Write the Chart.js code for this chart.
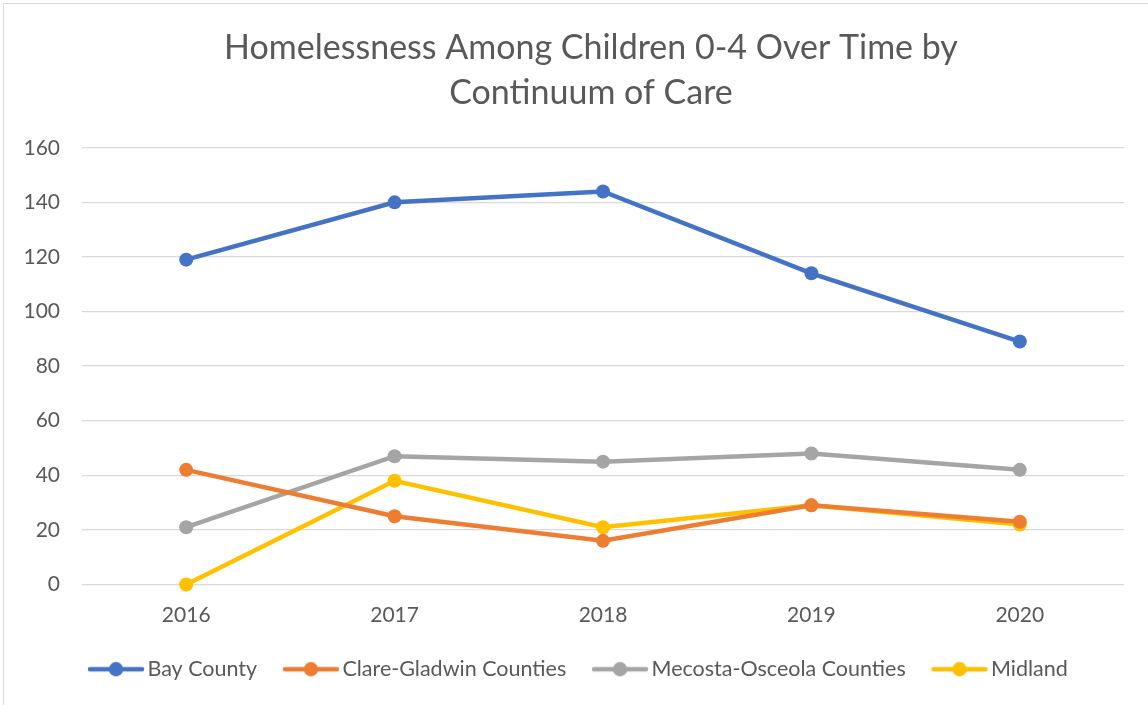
<!DOCTYPE html>
<html lang="en">
<head>
<meta charset="UTF-8">
<title>Homelessness Among Children 0-4</title>
<style>
  body { margin: 0; background: #fff; overflow: hidden; }
  .frame {
    position: absolute; left: 3px; top: 3px;
    width: 1150px; height: 710px;
    border: 1px solid #d9d9d9;
  }
  #chart-wrap { position: absolute; left: 0; top: 0; width: 1148px; height: 705px; }
</style>
</head>
<body>
<div class="frame"></div>
<div id="chart-wrap"><canvas id="chart"></canvas></div>

<script src="https://cdn.jsdelivr.net/npm/chart.js"></script>
<script>
// data
const years = ["2016", "2017", "2018", "2019", "2020"];
const bayCounty = [119, 140, 144, 114, 89];
const clareGladwin = [42, 25, 16, 29, 23];
const mecostaOsceola = [21, 47, 45, 48, 42];
const midland = [0, 38, 21, 29, 22];
const yTicks = [0, 20, 40, 60, 80, 100, 120, 140, 160];

const FONT = "Lato, 'Open Sans', sans-serif";
const textGray = "#595959";

// line + dot marker for the legend, like the Excel one
function legendMark(color) {
  const c = document.createElement("canvas");
  c.width = 58; c.height = 16;
  const g = c.getContext("2d");
  g.strokeStyle = color;
  g.lineWidth = 4.5;
  g.lineCap = "round";
  g.beginPath(); g.moveTo(3, 8); g.lineTo(55, 8); g.stroke();
  g.fillStyle = color;
  g.beginPath(); g.arc(29, 8, 7.2, 0, Math.PI * 2); g.fill();
  return c;
}

function series(label, data, color) {
  return {
    label: label,
    data: data,
    borderColor: color,
    backgroundColor: color,
    borderWidth: 4.5,
    pointRadius: 7,
    pointHoverRadius: 7,
    pointBackgroundColor: color,
    pointBorderWidth: 0,
    pointStyle: "circle",
    tension: 0,
    clip: false,
    legendMark: legendMark(color)
  };
}

// Excel centres title and legend a bit differently from Chart.js
const shiftBoxes = {
  id: "shiftBoxes",
  afterLayout: function (chart) {
    chart.titleBlock.left = 58;
    chart.legend.left = 39;
  }
};

new Chart(document.getElementById("chart"), {
  type: "line",
  data: {
    labels: years,
    datasets: [
      series("Bay County", bayCounty, "#4472C4"),
      series("Clare-Gladwin Counties", clareGladwin, "#ED7D31"),
      series("Mecosta-Osceola Counties", mecostaOsceola, "#A5A5A5"),
      series("Midland", midland, "#FFC000")
    ]
  },
  plugins: [shiftBoxes],
  options: {
    responsive: true,
    maintainAspectRatio: false,
    animation: false,
    layout: { padding: { left: 0, right: 24, top: 0, bottom: 15 } },
    plugins: {
      title: {
        display: true,
        text: ["Homelessness Among Children 0-4 Over Time by", "Continuum of Care"],
        color: textGray,
        font: { family: FONT, size: 34, weight: "normal", lineHeight: 1.32 },
        padding: { top: 26, bottom: 32 }
      },
      legend: {
        position: "bottom",
        labels: {
          color: textGray,
          font: { family: FONT, size: 21.5 },
          usePointStyle: true,
          pointStyleWidth: 41.5,
          boxHeight: 14,
          padding: 33,
          generateLabels: function (chart) {
            return chart.data.datasets.map(function (ds, i) {
              return {
                text: ds.label,
                pointStyle: ds.legendMark,
                fillStyle: ds.borderColor,
                strokeStyle: ds.borderColor,
                lineWidth: 0,
                fontColor: textGray,
                hidden: false,
                datasetIndex: i
              };
            });
          }
        }
      },
      tooltip: { enabled: false }
    },
    scales: {
      x: {
        offset: true,
        grid: { display: false },
        border: { display: false },
        ticks: { color: textGray, font: { family: FONT, size: 21 }, padding: 10 },
        afterFit: function (scale) { scale.height = 41; }
      },
      y: {
        min: 0,
        max: 160,
        afterBuildTicks: function (scale) {
          scale.ticks = yTicks.map(function (v) { return { value: v }; });
        },
        grid: { color: "#d9d9d9", lineWidth: 1.3, drawTicks: false },
        border: { display: false },
        ticks: { color: textGray, font: { family: FONT, size: 21 }, padding: 22 },
        afterFit: function (scale) { scale.width = 82; }
      }
    }
  }
});
</script>
</body>
</html>
